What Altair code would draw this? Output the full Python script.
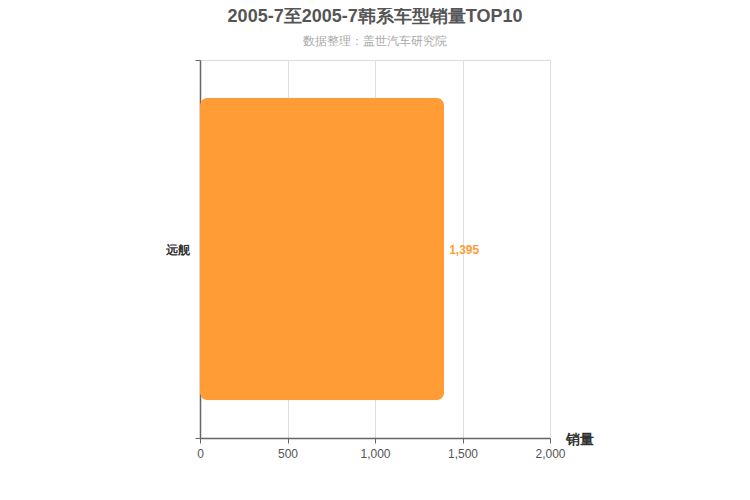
import altair as alt
import pandas as pd

models = ["远舰"]
sales = [1395]
x_ticks = [0, 500, 1000, 1500, 2000]

df = pd.DataFrame({"model": models, "sales": sales})
FONT = "Liberation Sans"

base = alt.Chart(df)

bars = base.mark_bar(color="#ff9c35", cornerRadius=8, height=alt.RelativeBandSize(0.8)).encode(
    y=alt.Y("model:N", title=None, scale=alt.Scale(paddingInner=0, paddingOuter=0),
            axis=alt.Axis(tickBand="extent", labelFontWeight="bold", labelColor="#333",
                          labelFontSize=12, labelFont=FONT, domainColor="#666", tickColor="#666",
                          tickSize=5, labelPadding=6, grid=True, gridColor="#ddd", domainWidth=1.5)),
    x=alt.X("sales:Q", title="销量",
            scale=alt.Scale(domain=[0, 2000], nice=False),
            axis=alt.Axis(values=x_ticks, format=",d", labelColor="#555", labelFontSize=12,
                          labelFont=FONT, domainColor="#666", tickColor="#666", tickSize=5,
                          labelFlush=False, labelOverlap=False,
                          gridColor="#ddd", titleAngle=0, titleAlign="left",
                          titleBaseline="bottom", titleX=365, titleY=8, titleFontSize=14,
                          titleFont=FONT, titleFontWeight="bold", titleColor="#333",
                          domainWidth=1.5, labelPadding=5)),
)

labels = base.mark_text(align="left", dx=5, dy=1, color="#ff9c35", fontWeight="bold",
                        fontSize=12, font=FONT).encode(
    y="model:N",
    x="sales:Q",
    text=alt.Text("sales:Q", format=",d"),
)

chart = (bars + labels).properties(
    width=350,
    height=378,
    autosize=alt.AutoSizeParams(type="none"),
    padding={"left": 192, "top": 52, "right": 192, "bottom": 54},
    title=alt.Title(
        "2005-7至2005-7韩系车型销量TOP10",
        subtitle="数据整理：盖世汽车研究院",
        font=FONT, fontSize=18, fontWeight="bold", color="#555",
        subtitleFont=FONT, subtitleFontSize=12, subtitleColor="#aaa",
        subtitlePadding=10, anchor="middle", offset=7,
    ),
).configure_view(stroke=None).configure(background="white")

chart.save("out.html", embed_options={"renderer": "svg", "actions": False})
